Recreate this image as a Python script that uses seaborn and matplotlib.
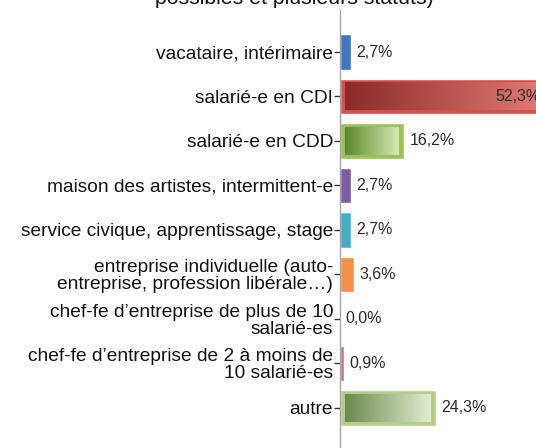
import numpy as np
import pandas as pd
import matplotlib
matplotlib.use("Agg")
import matplotlib.pyplot as plt
import seaborn as sns
from matplotlib.colors import LinearSegmentedColormap

# data
categories = [
    "vacataire, intérimaire",
    "salarié-e en CDI",
    "salarié-e en CDD",
    "maison des artistes, intermittent-e",
    "service civique, apprentissage, stage",
    "entreprise individuelle (auto-\nentreprise, profession libérale…)",
    "chef-fe d\u2019entreprise de plus de 10\nsalarié-es",
    "chef-fe d\u2019entreprise de 2 à moins de\n10 salarié-es",
    "autre",
]
values = [2.7, 52.3, 16.2, 2.7, 2.7, 3.6, 0.0, 0.9, 24.3]
labels = ["2,7%", "52,3%", "16,2%", "2,7%", "2,7%", "3,6%", "0,0%", "0,9%", "24,3%"]
bar_colors = ["#3F77C0", "#D2504E", "#9DBE5C", "#7E5CA6", "#45ADC8",
              "#F39244", "#C0504D", "#D07078", "#B3CD8C"]
# gradient (dark left -> light right) for the wide bars
gradients = {1: ("#8A2B2A", "#E27A74"), 2: ("#5A8A2C", "#D6E8B4"),
             8: ("#6C8A4C", "#E2EDD0")}

df = pd.DataFrame({"statut": categories, "pct": values})

sns.set_style("white")
plt.rcParams["font.family"] = ["Liberation Sans", "DejaVu Sans"]

fig = plt.figure(figsize=(5.36, 4.48), dpi=100)
px_per_pct = 3.95
x_max = 55
ax = fig.add_axes([340 / 536, 0, x_max * px_per_pct / 536, 438 / 448])

sns.barplot(data=df, x="pct", y="statut", hue="statut", palette=bar_colors,
            legend=False, orient="h", width=0.8, ax=ax, saturation=1)

# gradient fill inside the wide bars
dx = 5 / px_per_pct          # 5 px inset horizontally
dy = 4 * (8.9 + 0.944) / 438  # 4 px inset vertically
for i, patch in enumerate(ax.patches):
    if i in gradients:
        x0, y0 = patch.get_x(), patch.get_y()
        w, h = patch.get_width(), patch.get_height()
        cmap = LinearSegmentedColormap.from_list("g", gradients[i])
        grad = np.linspace(0, 1, 256).reshape(1, -1)
        ax.imshow(grad, cmap=cmap, aspect="auto", interpolation="bicubic",
                  extent=(x0 + dx, x0 + w - dx, y0 + h - dy, y0 + dy),
                  zorder=3)
ax.set_xlim(0, x_max)
ax.set_ylim(8.9, -0.944)

# value labels
for i, (v, lab) in enumerate(zip(values, labels)):
    if v > 40:
        ax.annotate(lab, (v, i), xytext=(-4, 0), textcoords="offset points",
                    ha="right", va="center", fontsize=11.5, color="#2a2a2a",
                    zorder=5, annotation_clip=False)
    else:
        ax.annotate(lab, (v, i), xytext=(4, 0), textcoords="offset points",
                    ha="left", va="center", fontsize=11.5, color="#2a2a2a",
                    zorder=5)

ax.set_xlabel("")
ax.set_ylabel("")
ax.set_xticks([])
ax.tick_params(axis="y", length=4, width=1, color="#333333", left=True,
               labelsize=13.8, labelcolor="#111111", pad=1)
for t in ax.get_yticklabels():
    t.set_multialignment("right")
    t.set_linespacing(1.0)
for s in ["top", "right", "bottom"]:
    ax.spines[s].set_visible(False)
ax.spines["left"].set_color("#A6A6A6")
ax.spines["left"].set_linewidth(1)

# title, cut off at the top of the picture
fig.text(294 / 536, 1 - 4 / 448, "possibles et plusieurs statuts)",
         ha="center", va="baseline", fontsize=15.3, color="#111111")

fig.savefig("out.png", dpi=100)
